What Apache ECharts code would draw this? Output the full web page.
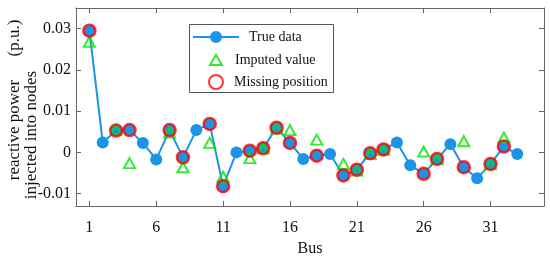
<!DOCTYPE html>
<html>
<head>
<meta charset="utf-8">
<script src="https://cdn.jsdelivr.net/npm/echarts@6/dist/echarts.min.js"></script>
<style>
  html, body { margin: 0; padding: 0; background: #fff; }
  #chart { width: 550px; height: 257px; }
</style>
</head>
<body>
<div id="chart"></div>
<script>
// bus numbers and measured values
const buses = [1, 2, 3, 4, 5, 6, 7, 8, 9, 10, 11, 12, 13, 14, 15, 16, 17, 18, 19, 20, 21, 22, 23, 24, 25, 26, 27, 28, 29, 30, 31, 32, 33];
const trueData = [0.0295, 0.0024, 0.0053, 0.0054, 0.0023, -0.0017, 0.0054, -0.0012, 0.0054, 0.0069, -0.0082,
  0.0000, 0.0004, 0.0010, 0.0060, 0.0023, -0.0016, -0.0008, -0.0004, -0.0056, -0.0042, -0.0002,
  0.0007, 0.0024, -0.0031, -0.0052, -0.0016, 0.0020, -0.0036, -0.0063, -0.0028, 0.0014, -0.0004];

// buses where data was missing, and the imputed values there
const missingBuses = [1, 3, 4, 7, 8, 10, 11, 13, 14, 15, 16, 18, 20, 21, 22, 23, 26, 27, 29, 31, 32];
const imputedValues = [0.0268, 0.0055, -0.0026, 0.0048, -0.0036, 0.0023, -0.0059, -0.0014, 0.0010, 0.0058, 0.0054,
  0.0031, -0.0028, -0.0044, -0.0004, 0.0006, 0.0002, -0.0016, 0.0027, -0.0029, 0.0036];

const xTicks = [1, 6, 11, 16, 21, 26, 31];
const yTicks = [-0.01, 0, 0.01, 0.02, 0.03];
const yTickLabels = ["-0.01", "0", "0.01", "0.02", "0.03"];

const FONT = "Liberation Serif";
const AXIS_C = "#666";
const BLUE = "#1c94e6";
const GREEN = "#00e600";
const RED = "#ff0000";

const chart = echarts.init(document.getElementById("chart"));

function xAxisCfg(pos, labels) {
  return {
    type: "value", position: pos, min: 0, max: 35,
    axisLine: { show: true, onZero: false, lineStyle: { color: AXIS_C, width: 1 } },
    axisTick: { show: true, inside: true, length: 5, customValues: xTicks, lineStyle: { color: AXIS_C } },
    axisLabel: labels ? { customValues: xTicks, fontFamily: FONT, fontSize: 16, color: "#111", margin: 14 } : { show: false },
    splitLine: { show: false }
  };
}

function yAxisCfg(pos, labels) {
  return {
    type: "value", position: pos, min: -0.013, max: 0.035,
    axisLine: { show: true, onZero: false, lineStyle: { color: AXIS_C, width: 1 } },
    axisTick: { show: true, inside: true, length: 5, customValues: yTicks, lineStyle: { color: AXIS_C } },
    axisLabel: labels ? {
      customValues: yTicks, fontFamily: FONT, fontSize: 16, color: "#111", margin: 5,
      formatter: function (v) {
        const i = yTicks.findIndex(function (t) { return Math.abs(t - v) < 1e-9; });
        return i >= 0 ? yTickLabels[i] : "";
      }
    } : { show: false },
    splitLine: { show: false }
  };
}

const xBottom = xAxisCfg("bottom", true);
xBottom.name = "Bus";
xBottom.nameLocation = "middle";
xBottom.nameGap = 30;
xBottom.nameTextStyle = { fontFamily: FONT, fontSize: 16, color: "#111" };

const legendText = { fontFamily: FONT, fontSize: 14, color: "#111" };

chart.setOption({
  animation: false,
  backgroundColor: "#fff",
  grid: { left: 76, right: 6, top: 8, bottom: 51, containLabel: false, outerBoundsMode: "none" },
  xAxis: [xBottom, xAxisCfg("top", false)],
  yAxis: [yAxisCfg("left", true), yAxisCfg("right", false)],
  legend: [
    { data: ["True data"], left: 192, top: 30, padding: 0, itemWidth: 46, itemHeight: 15,
      textStyle: Object.assign({ padding: [0, 0, 0, 5] }, legendText) },
    { data: ["Imputed value"], left: 209, top: 53, padding: 0, itemWidth: 12, itemHeight: 10,
      textStyle: Object.assign({ padding: [0, 0, 0, 8] }, legendText) },
    { data: ["Missing position"], left: 208, top: 74, padding: 0, itemWidth: 14, itemHeight: 14,
      textStyle: Object.assign({ padding: [0, 0, 0, 6] }, legendText) }
  ],
  graphic: [
    { type: "rect", z: 3, shape: { x: 189.5, y: 24.5, width: 144, height: 68 },
      style: { fill: "#fff", stroke: "#555", lineWidth: 1 } },
    { type: "text", x: 15, y: 130, rotation: Math.PI / 2,
      style: { text: "reactive power", fontFamily: FONT, fontSize: 17, fill: "#111", align: "center", verticalAlign: "middle" } },
    { type: "text", x: 15, y: 38, rotation: Math.PI / 2,
      style: { text: "(p.u.)", fontFamily: FONT, fontSize: 17, fill: "#111", align: "center", verticalAlign: "middle" } },
    { type: "text", x: 32, y: 135, rotation: Math.PI / 2,
      style: { text: "injected into nodes", fontFamily: FONT, fontSize: 17, fill: "#111", align: "center", verticalAlign: "middle" } }
  ],
  series: [
    {
      name: "True data", type: "line", z: 2,
      data: buses.map(function (b, i) { return [b, trueData[i]]; }),
      symbol: "circle", symbolSize: 12,
      itemStyle: { color: BLUE },
      lineStyle: { color: BLUE, width: 2 }
    },
    {
      name: "Imputed value", type: "scatter", z: 3,
      data: missingBuses.map(function (b, i) { return [b, imputedValues[i]]; }),
      symbol: "triangle", symbolSize: [11, 10],
      itemStyle: { color: "rgba(0,0,0,0)", borderColor: GREEN, borderWidth: 2 }
    },
    {
      name: "Missing position", type: "scatter", z: 4,
      data: missingBuses.map(function (b) { return [b, trueData[buses.indexOf(b)]]; }),
      symbol: "circle", symbolSize: 12,
      itemStyle: { color: "rgba(0,0,0,0)", borderColor: RED, borderWidth: 2.5 }
    }
  ]
});
</script>
</body>
</html>
